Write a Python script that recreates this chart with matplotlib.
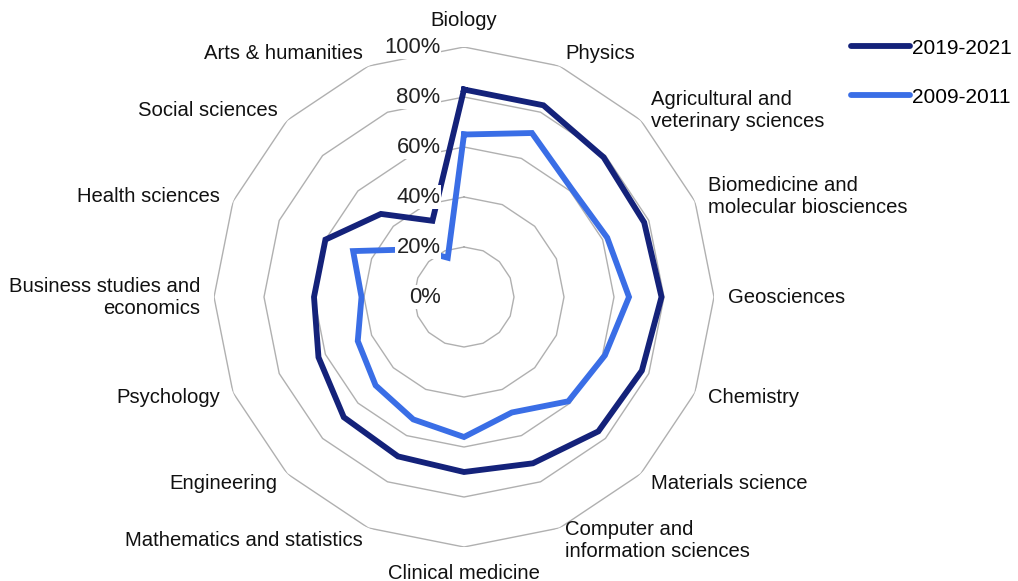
import numpy as np
import matplotlib
matplotlib.use("Agg")
import matplotlib.pyplot as plt
from matplotlib.lines import Line2D

plt.rcParams['font.family'] = ['Liberation Sans', 'DejaVu Sans']

categories = [
    "Biology", "Physics", "Agricultural and\nveterinary sciences",
    "Biomedicine and\nmolecular biosciences", "Geosciences", "Chemistry",
    "Materials science", "Computer and\ninformation sciences", "Clinical medicine",
    "Mathematics and statistics", "Engineering", "Psychology",
    "Business studies and\neconomics", "Health sciences", "Social sciences",
    "Arts & humanities",
]
recent = [83, 83, 79, 78, 79, 77, 76, 72, 70, 69, 68, 63, 60, 60, 47, 33]
older = [65, 71, 61, 62, 66, 61, 59, 50, 56, 53, 50, 46, 41, 48, 27, 17]
series_names = ["2019-2021", "2009-2011"]
colors = ["#14227a", "#3a6ee6"]
ticks = [0, 20, 40, 60, 80, 100]

n = len(categories)
angles = np.arange(n) * 2 * np.pi / n

fig = plt.figure(figsize=(10.18, 5.81), dpi=100)
ax = fig.add_axes([0.2102, 0.0585, 0.4912, 0.8606], projection='polar')
ax.set_theta_offset(np.pi / 2)
ax.set_theta_direction(-1)
ax.set_ylim(0, 100)
ax.axis('off')

# polygon rings
ring_ang = np.append(angles, angles[0])
for t in ticks[1:]:
    ax.plot(ring_ang, [t] * len(ring_ang), color='#b0b0b0', lw=1.0, zorder=1)

# series
for vals, col in zip([recent, older], colors):
    ax.plot(ring_ang, vals + vals[:1], color=col, lw=4.2, zorder=3,
            solid_joinstyle='miter')

# category labels
for ang, lab in zip(angles, categories):
    s = np.sin(ang)
    if abs(s) < 0.01:
        ha = 'center'
        r = 110.5
    elif s > 0:
        ha = 'left'
        r = 105.5
    else:
        ha = 'right'
        r = 105.5
    ax.text(ang, r, lab, ha=ha, va='center', fontsize=14.6, color='#111111',
            multialignment=ha, zorder=5)

# radial tick labels
for t in ticks:
    ax.annotate(f"{t}%", xy=(0, t), xytext=(-17, 0), textcoords='offset points',
                ha='right', va='center', fontsize=15.8, color='#222222', zorder=6,
                bbox=dict(boxstyle='square,pad=0.05', fc='white', ec='none'))

handles = [Line2D([0], [0], color=c, lw=4.2, solid_capstyle='round') for c in colors]
fig.legend(handles, series_names, loc='upper left', bbox_to_anchor=(0.818, 0.966),
           frameon=False, fontsize=15, handlelength=2.8, handletextpad=0.1,
           labelspacing=1.45)

fig.savefig("out.png", dpi=100)
